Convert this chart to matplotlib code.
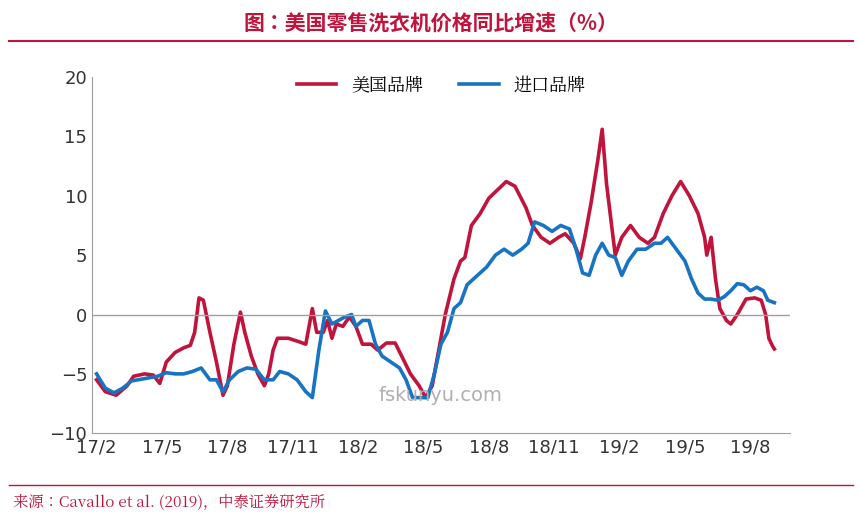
import matplotlib
matplotlib.use("Agg")
import matplotlib.pyplot as plt
from matplotlib import font_manager as fm

red_t = [0,0.4,0.9,1.4,1.7,2.2,2.6,2.9,3.2,3.6,4.0,4.3,4.5,4.7,4.9,5.2,5.5,5.8,6.0,6.3,6.6,6.8,7.1,7.4,7.7,7.9,8.1,8.3,8.8,9.3,9.6,9.9,10.1,10.4,10.6,10.8,11.0,11.3,11.6,11.9,12.2,12.6,12.9,13.3,13.7,14.0,14.4,14.8,15.1,15.4,15.7,16.0,16.4,16.7,16.9,17.2,17.6,18.0,18.4,18.8,19.2,19.7,20.0,20.4,20.8,21.2,21.5,21.9,22.2,22.4,22.7,23.0,23.2,23.4,23.6,23.8,24.1,24.5,24.9,25.3,25.6,26.0,26.4,26.8,27.2,27.6,27.9,28.0,28.2,28.4,28.6,28.9,29.1,29.4,29.8,30.2,30.5,30.7,30.85,31.0,31.1]
red_v = [-5.5,-6.5,-6.8,-6,-5.2,-5,-5.1,-5.8,-4,-3.2,-2.8,-2.6,-1.5,1.4,1.2,-1.5,-4,-6.8,-6,-2.5,0.2,-1.5,-3.5,-5,-6,-5,-3,-2,-2,-2.3,-2.5,0.5,-1.5,-1.5,-0.5,-2,-0.8,-1,-0.2,-1,-2.5,-2.5,-3,-2.4,-2.4,-3.5,-5,-6,-7,-6,-3,0,3,4.5,4.8,7.5,8.5,9.8,10.5,11.2,10.8,9,7.5,6.5,6,6.5,6.8,6,4.7,6.5,9.5,13,15.6,11,8,5,6.5,7.5,6.5,6,6.5,8.5,10,11.2,10,8.5,6.5,5,6.5,3,0.5,-0.5,-0.8,0,1.3,1.4,1.2,0,-2,-2.6,-2.9]

blue_t = [0,0.4,0.8,1.2,1.6,2.2,2.8,3.2,3.6,4.0,4.4,4.8,5.2,5.5,5.8,6.1,6.5,6.9,7.3,7.7,8.1,8.4,8.8,9.2,9.6,9.9,10.2,10.5,10.8,11.1,11.4,11.7,11.9,12.2,12.5,12.8,13.1,13.5,13.9,14.2,14.5,14.9,15.2,15.5,15.8,16.1,16.4,16.7,17.0,17.3,17.6,17.9,18.3,18.7,19.1,19.5,19.8,20.1,20.5,20.9,21.3,21.7,22.0,22.3,22.6,22.9,23.2,23.5,23.8,24.1,24.4,24.8,25.2,25.6,25.9,26.2,26.6,27.0,27.3,27.6,27.9,28.2,28.5,28.8,29.1,29.4,29.7,30.0,30.3,30.6,30.8,31.1]
blue_v = [-5,-6.2,-6.6,-6.2,-5.6,-5.4,-5.2,-4.9,-5,-5,-4.8,-4.5,-5.5,-5.5,-6.5,-5.5,-4.8,-4.5,-4.6,-5.5,-5.5,-4.8,-5,-5.5,-6.5,-7,-3,0.3,-0.8,-0.5,-0.2,0,-1,-0.5,-0.5,-2.5,-3.5,-4,-4.5,-5.5,-7,-7,-7,-5,-2.5,-1.5,0.5,1,2.5,3,3.5,4,5,5.5,5,5.5,6,7.8,7.5,7,7.5,7.2,5.5,3.5,3.3,5,6,5,4.8,3.3,4.5,5.5,5.5,6,6,6.5,5.5,4.5,3,1.8,1.3,1.3,1.2,1.5,2,2.6,2.5,2.0,2.3,2,1.2,1.0]

tick_pos = [0,3,6,9,12,15,18,21,24,27,30]
tick_labels = ["17/2","17/5","17/8","17/11","18/2","18/5","18/8","18/11","19/2","19/5","19/8"]

fonts = [f for f in fm.findSystemFonts() if "CJK" in f]
def pick(pref):
    for f in fonts:
        if pref in f:
            return f
    return fonts[0] if fonts else None
reg_path = pick("Regular")
bold_path = pick("Bold") or reg_path

def fp(size, bold=False):
    path = bold_path if bold else reg_path
    if path:
        p = fm.FontProperties(fname=path, size=size)
    else:
        p = fm.FontProperties(family="Noto Sans CJK SC", size=size)
    if bold:
        p.set_weight("bold")
    return p

fig = plt.figure(figsize=(8.62,5.17), dpi=100)
ax = fig.add_axes([0.107,0.162,0.809,0.689])
ax.plot(red_t, red_v, color="#C0143C", lw=2.6, label="美国品牌")
ax.plot(blue_t, blue_v, color="#1874C2", lw=2.6, label="进口品牌")
ax.axhline(0, color="#A0A0A0", lw=1)
ax.set_ylim(-10,20)
ax.set_xlim(-0.2,31.8)
ax.set_yticks(range(-10,21,5))
ax.set_xticks(tick_pos)
ax.set_xticklabels(tick_labels)
ax.tick_params(labelsize=13, length=0, colors="#333333")
for s in ["top","right"]:
    ax.spines[s].set_visible(False)
ax.spines["left"].set_color("#A0A0A0")
ax.spines["bottom"].set_color("#A0A0A0")
ax.legend(loc="upper center", bbox_to_anchor=(0.5,1.05), ncol=2, frameon=False,
          prop=fp(13), handlelength=2.2, columnspacing=2)
ax.text(0.5,0.09,"fskunyu.com", transform=ax.transAxes, ha="center", color="#B0B0B0", fontsize=14)

fig.text(0.5,0.955,"图：美国零售洗衣机价格同比增速（%）", ha="center", va="center",
         color="#C0143C", fontproperties=fp(15, True))
fig.add_artist(plt.Line2D([0.01,0.99],[0.921,0.921], color="#C0143C", lw=1.5))
fig.add_artist(plt.Line2D([0.01,0.99],[0.062,0.062], color="#C0143C", lw=1))
fig.text(0.015,0.028,"来源：Cavallo et al. (2019)，中泰证券研究所", ha="left", va="center",
         color="#C0143C", fontproperties=fp(11))
fig.savefig("out.png", dpi=100)
